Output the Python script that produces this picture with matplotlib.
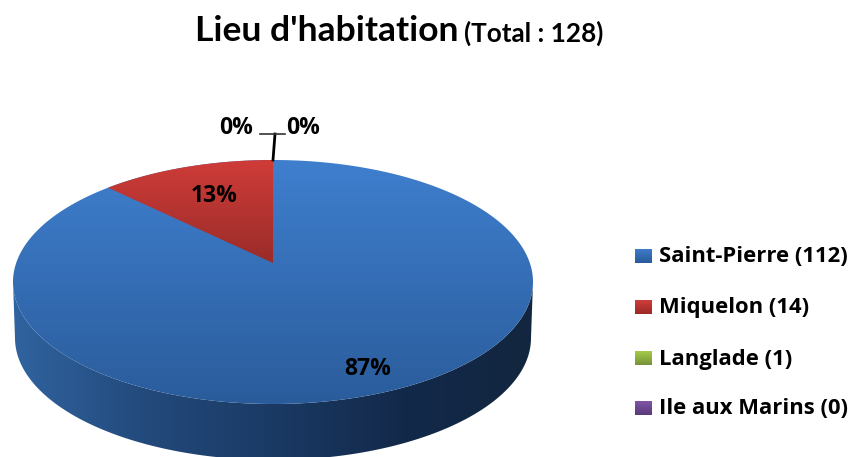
import numpy as np
import matplotlib
matplotlib.use("Agg")
import matplotlib.pyplot as plt
from matplotlib.colors import LinearSegmentedColormap
from matplotlib.patches import Polygon

plt.rcParams['font.family'] = ['Open Sans', 'DejaVu Sans']

# Data
total = 128
places = ["Saint-Pierre (112)", "Miquelon (14)", "Langlade (1)", "Ile aux Marins (0)"]
counts = [112, 14, 1, 0]
pct_labels = ["87%", "13%", "0%", "0%"]

# Colours
legend_colors = [("#3f7ccb", "#285a98"), ("#cf3d3a", "#9a2a28"),
                 ("#a4cc4a", "#76923a"), ("#7f55a8", "#5a3a7a")]

# Geometry, in pixels
W, H = 850, 457
cx, cy, rx, ry = 273, 282, 260, 122
apex_y = 263
depth = 56

fig = plt.figure(figsize=(W / 100, H / 100), dpi=100)
ax = fig.add_axes([0, 0, 1, 1])
ax.set_xlim(0, W)
ax.set_ylim(H, 0)
ax.axis('off')


def gradient(c_list, extent, horizontal=False, clip=None, zorder=1):
    cmap = LinearSegmentedColormap.from_list("g", c_list)
    g = np.linspace(0, 1, 256)
    g = g.reshape(1, -1) if horizontal else g.reshape(-1, 1)
    im = ax.imshow(g, cmap=cmap, extent=extent, aspect='auto', zorder=zorder,
                   interpolation='bilinear')
    if clip is not None:
        p = Polygon(clip, closed=True, transform=ax.transData, fc='none', ec='none')
        ax.add_patch(p)
        im.set_clip_path(p)
    return im


# side of the pie
t = np.linspace(0, np.pi, 300)
top_edge = np.column_stack([cx + rx * np.cos(t), cy + ry * np.sin(t)])
low_edge = np.column_stack([cx + (rx - 2) * np.cos(t[::-1]), cy + depth + ry * np.sin(t[::-1])])
gradient(["#30639f", "#234a7c", "#1a3a64", "#13294a", "#12263f"],
         (cx - rx, cx + rx, H + 10, cy), horizontal=True,
         clip=np.vstack([top_edge, low_edge]))

# top of the pie, red slice cut out of the blue ellipse
red_angle = 2 * np.pi * counts[1] / total
t = np.linspace(0, 2 * np.pi, 500)
top_shape = np.column_stack([cx + rx * np.sin(t), cy - ry * np.cos(t)])
gradient(["#3f7fce", "#2a5c9b"], (cx - rx, cx + rx, cy + ry, cy - ry), clip=top_shape, zorder=2)

t = np.linspace(-red_angle, 0, 80)
red_shape = np.vstack([[cx, apex_y],
                       np.column_stack([cx + rx * np.sin(t), cy - ry * np.cos(t)])])
gradient(["#cf3c38", "#982b29"], (cx - rx, cx, apex_y + 3, cy - ry), clip=red_shape, zorder=3)

# leader lines for the 0% labels
ax.plot([273, 275], [160, 134], color='black', lw=2, zorder=4)
ax.plot([260, 285], [134, 134], color='#333333', lw=1.2, zorder=4)

# labels
lab = dict(fontweight='bold', fontsize=16.5, color='black', ha='center', va='center', zorder=5)
ax.text(368, 369, pct_labels[0], **lab)
ax.text(214, 196, pct_labels[1], **lab)
ax.text(236, 128, pct_labels[2], **lab)
ax.text(303, 128, pct_labels[3], **lab)

# title
ax.text(195, 31, "Lieu d'habitation", family='Lato', fontweight='bold', fontsize=25.5,
        ha='left', va='center')
ax.text(464, 33, "(Total : 128)", family='Lato', fontweight='bold', fontsize=18.8,
        ha='left', va='center')

# legend
legend_y = [256, 307, 358, 408]
for name, (c1, c2), y in zip(places, legend_colors, legend_y):
    gradient([c1, c2], (635, 652, y + 7, y - 7), zorder=2)
    ax.text(659, y + 1, name, fontweight='bold', fontsize=15.8, ha='left', va='center')

ax.set_xlim(0, W)
ax.set_ylim(H, 0)
fig.savefig("out.png", dpi=100)
